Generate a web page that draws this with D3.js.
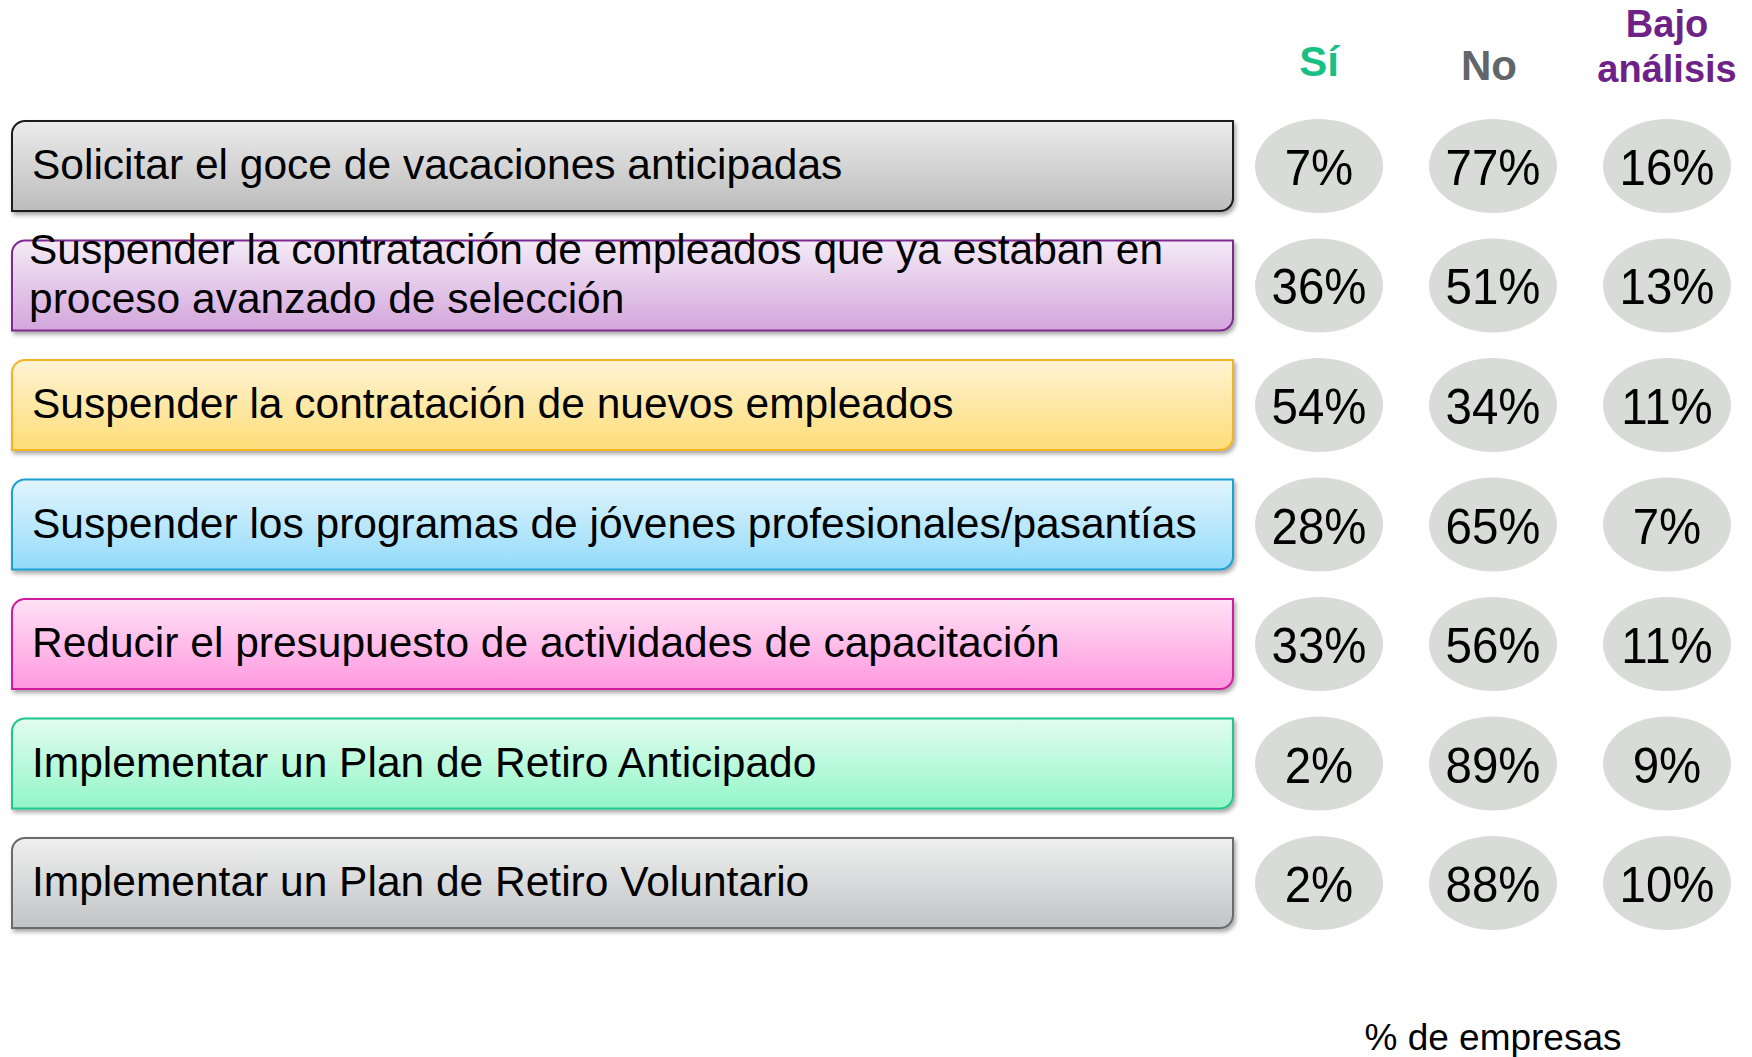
<!DOCTYPE html>
<html>
<head>
<meta charset="utf-8">
<script src="https://cdnjs.cloudflare.com/ajax/libs/d3/7.8.5/d3.min.js"></script>
<style>
  html, body { margin: 0; padding: 0; background: #fff; }
  svg { display: block; font-family: "Liberation Sans", Arial, sans-serif; }
</style>
</head>
<body>
<svg id="chart"></svg>
<script>
// Data
const categories = [
  'Solicitar el goce de vacaciones anticipadas',
  'Suspender la contratación de empleados que ya estaban en\nproceso avanzado de selección',
  'Suspender la contratación de nuevos empleados',
  'Suspender los programas de jóvenes profesionales/pasantías',
  'Reducir el presupuesto de actividades de capacitación',
  'Implementar un Plan de Retiro Anticipado',
  'Implementar un Plan de Retiro Voluntario',
];
const columns = ['Sí', 'No', 'Bajo\nanálisis'];
const si = [7, 36, 54, 28, 33, 2, 2];
const no = [77, 51, 34, 65, 56, 89, 88];
const bajo = [16, 13, 11, 7, 11, 9, 10];
const footnote = '% de empresas';

// Styles
const boxStyles = [
  { top: '#ececec', bottom: '#bcbcbc', stroke: '#1a1a1a' },
  { top: '#f4eaf6', bottom: '#d3a6dc', stroke: '#7d2a91' },
  { top: '#fff3d4', bottom: '#fddd78', stroke: '#f4b324' },
  { top: '#e2f5fd', bottom: '#93dbfa', stroke: '#1a9fd2' },
  { top: '#ffe2f5', bottom: '#ff98df', stroke: '#cf1f9d' },
  { top: '#e2fcf0', bottom: '#93f6c7', stroke: '#1cc98a' },
  { top: '#efefef', bottom: '#c2c3c5', stroke: '#6a6a6a' },
];
const headerColors = ['#19c083', '#626569', '#6e2288'];

const width = 1752;
const height = 1057;

const svg = d3.select('#chart')
  .attr('width', width)
  .attr('height', height);

const defs = svg.append('defs');

const shadow = defs.append('filter')
  .attr('id', 'shadow')
  .attr('x', '-5%').attr('y', '-20%')
  .attr('width', '110%').attr('height', '150%');
shadow.append('feDropShadow')
  .attr('dx', 2).attr('dy', 3)
  .attr('stdDeviation', 2)
  .attr('flood-color', '#000')
  .attr('flood-opacity', 0.35);

boxStyles.forEach((s, i) => {
  const grad = defs.append('linearGradient')
    .attr('id', `grad${i}`)
    .attr('x1', 0).attr('y1', 0).attr('x2', 0).attr('y2', 1);
  grad.append('stop').attr('offset', '0%').attr('stop-color', s.top);
  grad.append('stop').attr('offset', '100%').attr('stop-color', s.bottom);
});

const rows = categories.map((c, i) => ({
  label: c,
  values: [si[i], no[i], bajo[i]],
  style: i,
}));

// Scales
const y = d3.scaleBand()
  .domain(categories)
  .range([121, 928])
  .paddingInner(0.247)
  .paddingOuter(0);

const x = d3.scalePoint()
  .domain(columns)
  .range([1319, 1667]);

const boxLeft = 12;
const boxRight = 1233;
const r = 13;

// rectangle with top-left and bottom-right corners rounded
function diagPath(x0, y0, w, h) {
  const p = d3.path();
  p.moveTo(x0 + r, y0);
  p.lineTo(x0 + w, y0);
  p.lineTo(x0 + w, y0 + h - r);
  p.arcTo(x0 + w, y0 + h, x0 + w - r, y0 + h, r);
  p.lineTo(x0, y0 + h);
  p.lineTo(x0, y0 + r);
  p.arcTo(x0, y0, x0 + r, y0, r);
  p.closePath();
  return p.toString();
}

// Label boxes
const row = svg.selectAll('.row')
  .data(rows)
  .enter().append('g')
    .attr('class', 'row');

row.append('path')
  .attr('d', d => diagPath(boxLeft, y(d.label), boxRight - boxLeft, y.bandwidth()))
  .attr('fill', d => `url(#grad${d.style})`)
  .attr('stroke', d => boxStyles[d.style].stroke)
  .attr('stroke-width', 2)
  .attr('filter', 'url(#shadow)');

row.append('text')
  .attr('font-size', 42.5)
  .attr('fill', '#000')
  .each(function (d) {
    const lines = d.label.split('\n');
    const cy = y(d.label) + y.bandwidth() / 2;
    const t = d3.select(this);
    if (lines.length === 1) {
      t.append('tspan').attr('x', boxLeft + 20).attr('y', cy + 13).text(lines[0]);
    } else {
      t.append('tspan').attr('x', boxLeft + 17).attr('y', cy - 21).text(lines[0]);
      t.append('tspan').attr('x', boxLeft + 17).attr('y', cy + 28).text(lines[1]);
    }
  });

// Ellipses with percentages
const cells = row.selectAll('.cell')
  .data(d => d.values.map((v, j) => ({ v, col: columns[j], label: d.label })))
  .enter().append('g')
    .attr('class', 'cell')
    .attr('transform', d => `translate(${x(d.col)}, ${y(d.label) + y.bandwidth() / 2})`);

cells.append('ellipse')
  .attr('rx', 64)
  .attr('ry', 47)
  .attr('fill', '#d9dbd9');

cells.append('text')
  .attr('text-anchor', 'middle')
  .attr('transform', 'translate(0, 19) scale(0.95, 1)')
  .attr('font-size', 50)
  .attr('fill', '#000')
  .text(d => `${d.v}%`);

// Column headers
const headers = svg.selectAll('.header')
  .data(columns)
  .enter().append('text')
    .attr('class', 'header')
    .attr('text-anchor', 'middle')
    .attr('font-weight', 'bold')
    .attr('font-size', (d, i) => (i === 2 ? 38 : 42))
    .attr('fill', (d, i) => headerColors[i]);

headers.each(function (d, i) {
  const lines = d.split('\n');
  const t = d3.select(this);
  const cx = x(d) + (i === 1 ? -4 : 0);
  if (lines.length === 1) {
    t.append('tspan').attr('x', cx).attr('y', i === 0 ? 76 : 80).text(lines[0]);
  } else {
    t.append('tspan').attr('x', cx).attr('y', 37).text(lines[0]);
    t.append('tspan').attr('x', cx).attr('y', 82).text(lines[1]);
  }
});

// Footnote
svg.append('text')
  .attr('x', x('No'))
  .attr('y', 1050)
  .attr('text-anchor', 'middle')
  .attr('font-size', 37)
  .attr('fill', '#000')
  .text(footnote);
</script>
</body>
</html>
